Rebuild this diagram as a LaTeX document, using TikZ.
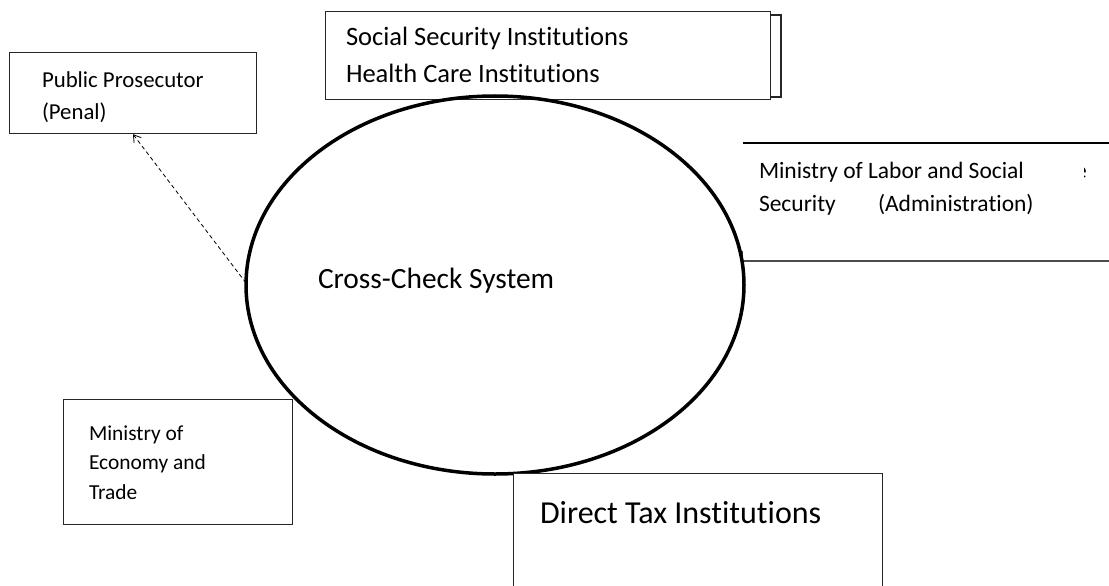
\documentclass[tikz,border=0pt]{standalone}
\usepackage{fontspec}
\setmainfont[Ligatures=NoCommon]{Carlito}
\usetikzlibrary{arrows.meta}
\begin{document}
\begin{tikzpicture}[x=1pt,y=-1pt,
  boxline/.style={draw=black!85, line width=1.2pt},
  txt/.style={anchor=base west, inner sep=0pt, outer sep=0pt},
  fcc/.style={font=\fontsize{29.4}{36}\selectfont},
  fdt/.style={font=\fontsize{32}{38}\selectfont},
  fmid/.style={font=\fontsize{26.5}{30}\selectfont},
  flab/.style={font=\fontsize{23.5}{28}\selectfont},
  fsmall/.style={font=\fontsize{22.8}{26}\selectfont},
  fsm/.style={font=\fontsize{21.4}{24}\selectfont}]
\useasboundingbox (0,0) rectangle (1109,586);
\clip (0,0) rectangle (1109,586);
\fill[white] (0,0) rectangle (1109,586);
% top box with shadow box behind
\draw[boxline, fill=white] (335,15) rectangle (781,97);
\node[boxline, fill=white, minimum width=445pt, minimum height=88pt, anchor=north west, inner sep=0pt] (ss) at (325,11) {};
\node[txt, fmid] (ss1) at (346,46) {Social Security Institutions};
\node[txt, fmid] (ss2) at (346,83) {Health Care Institutions};
% public prosecutor
\node[boxline, minimum width=247pt, minimum height=81pt, anchor=north west, inner sep=0pt] (pp) at (9,52) {};
\node[txt, fsmall] (pp1) at (42,88) {Public Prosecutor};
\node[txt, fsmall] (pp2) at (42,119) {(Penal)};
% ministry of labor (partially drawn)
\coordinate (mlA) at (743,143);
\coordinate (mlB) at (1115,143);
\coordinate (mlC) at (742,251);
\coordinate (mlD) at (742,261);
\coordinate (mlE) at (1115,261);
\draw[line width=1.2pt, black] (mlA) -- (mlB);
\draw[line width=1.2pt, black!70] (mlC) -- (mlD) -- (mlE);
\node[txt, flab] (ml1) at (759,178) {Ministry of Labor and Social};
\node[txt, flab] (ml2) at (759,211) {Security};
\node[txt, flab] (ml3) at (878,211) {(Administration)};
\begin{scope}
\clip (1084,150) rectangle (1100,185);
\node[txt, flab] (mle) at (1075,178) {e};
\end{scope}
% ellipse
\draw[line width=3.5pt] (495,285) ellipse [x radius=249pt, y radius=189pt];
\coordinate (el) at (246,283);
\node[txt, fcc] (cc) at (318,288) {Cross-Check System};
% ministry of economy
\node[boxline, fill=white, minimum width=229pt, minimum height=125pt, anchor=north west, inner sep=0pt] (me) at (63,399) {};
\node[txt, fsm] (me1) at (89,440) {Ministry of};
\node[txt, fsm] (me2) at (89,469) {Economy and};
\node[txt, fsm] (me3) at (89,499) {Trade};
% direct tax
\node[boxline, fill=white, minimum width=369pt, minimum height=140pt, anchor=north west, inner sep=0pt] (dt) at (513,473) {};
\node[txt, fdt] (dt1) at (540,523) {Direct Tax Institutions};
% dashed arrow
\draw[dashed, line width=0.8pt, dash pattern=on 4pt off 3pt, -{Straight Barb[length=7pt,width=9pt]}] (el) -- (pp.south west -| 133,0);
\end{tikzpicture}
\end{document}
